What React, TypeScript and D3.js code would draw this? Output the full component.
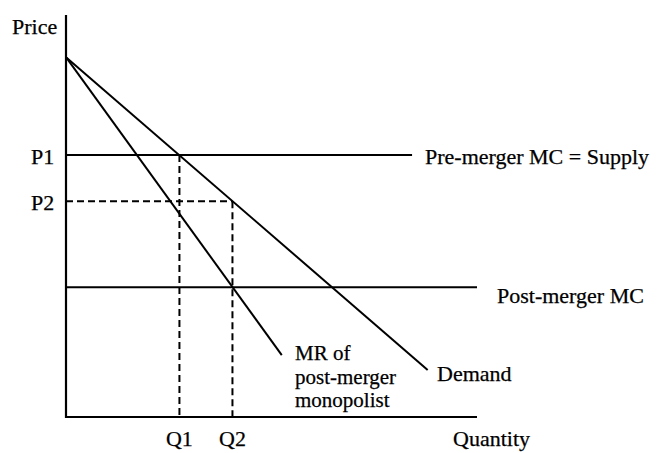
import React from "react";
import * as d3 from "d3";

// Data (price/quantity units, 0-100)
const demand = [
  { q: 0, p: 89.5 },
  { q: 88, p: 11.7 },
];
const mrPost = [
  { q: 0, p: 89.5 },
  { q: 52.5, p: 15.4 },
];
const p1 = 65.2;
const p2 = 53.7;
const mcPost = 32.3;
const q1 = 27.6;
const q2 = 40.5;
const preMcEnd = 84.2;
const postMcEnd = 100;
const mrLabel = ["MR of", "post-merger", "monopolist"];

const W = 659;
const H = 453;
const FONT = "'Liberation Serif', 'Times New Roman', serif";

export default function App() {
  const x = d3.scaleLinear().domain([0, 100]).range([66, 477]);
  const y = d3.scaleLinear().domain([0, 100]).range([417, 15]);
  const line = d3
    .line<{ q: number; p: number }>()
    .x((d) => x(d.q))
    .y((d) => y(d.p));

  const txt = (s: string, tx: number, ty: number, anchor: string = "start", fs: number = 22) => (
    <text key={s} x={tx} y={ty} textAnchor={anchor} dy="0.35em" fontFamily={FONT} fontSize={fs} fill="#000" stroke="#000" strokeWidth={0.25}>
      {s}
    </text>
  );

  return (
    <svg width={W} height={H} style={{ position: "absolute", left: 0, top: 0, background: "#fff" }}>
      <rect width={W} height={H} fill="#fff" />
      {/* axes */}
      <line x1={x(0)} y1={y(100)} x2={x(0)} y2={y(0) + 1} stroke="#000" strokeWidth={2.2} />
      <line x1={x(0) - 1} y1={y(0)} x2={x(100)} y2={y(0)} stroke="#000" strokeWidth={2.2} />
      {/* horizontal MC lines */}
      <line x1={x(0)} y1={y(p1)} x2={x(preMcEnd)} y2={y(p1)} stroke="#000" strokeWidth={2} />
      <line x1={x(0)} y1={y(mcPost)} x2={x(postMcEnd)} y2={y(mcPost)} stroke="#000" strokeWidth={2} />
      {/* dashed guides */}
      <line x1={x(0)} y1={y(p2)} x2={x(q2)} y2={y(p2)} stroke="#000" strokeWidth={2} strokeDasharray="7,4" />
      <line x1={x(q1)} y1={y(p1)} x2={x(q1)} y2={y(0)} stroke="#000" strokeWidth={2} strokeDasharray="7,4" />
      <line x1={x(q2)} y1={y(p2)} x2={x(q2)} y2={y(0)} stroke="#000" strokeWidth={2} strokeDasharray="7,4" />
      {/* demand and MR */}
      <path d={line(demand) || ""} fill="none" stroke="#000" strokeWidth={2} />
      <path d={line(mrPost) || ""} fill="none" stroke="#000" strokeWidth={2} />
      {/* labels */}
      {txt("Price", 12, 26)}
      {txt("P1", 31, y(p1) + 1)}
      {txt("P2", 31, y(p2) + 1)}
      {txt("Q1", x(q1), 438, "middle")}
      {txt("Q2", x(q2), 438, "middle")}
      {txt("Quantity", 453, 438)}
      {txt("Pre-merger MC = Supply", 425, y(p1) + 1)}
      {txt("Post-merger MC", 497, y(mcPost) + 8)}
      {txt("Demand", 437, 373)}
      {mrLabel.map((s, i) => txt(s, 295, 353 + i * 23.5, "start", 21))}
    </svg>
  );
}
